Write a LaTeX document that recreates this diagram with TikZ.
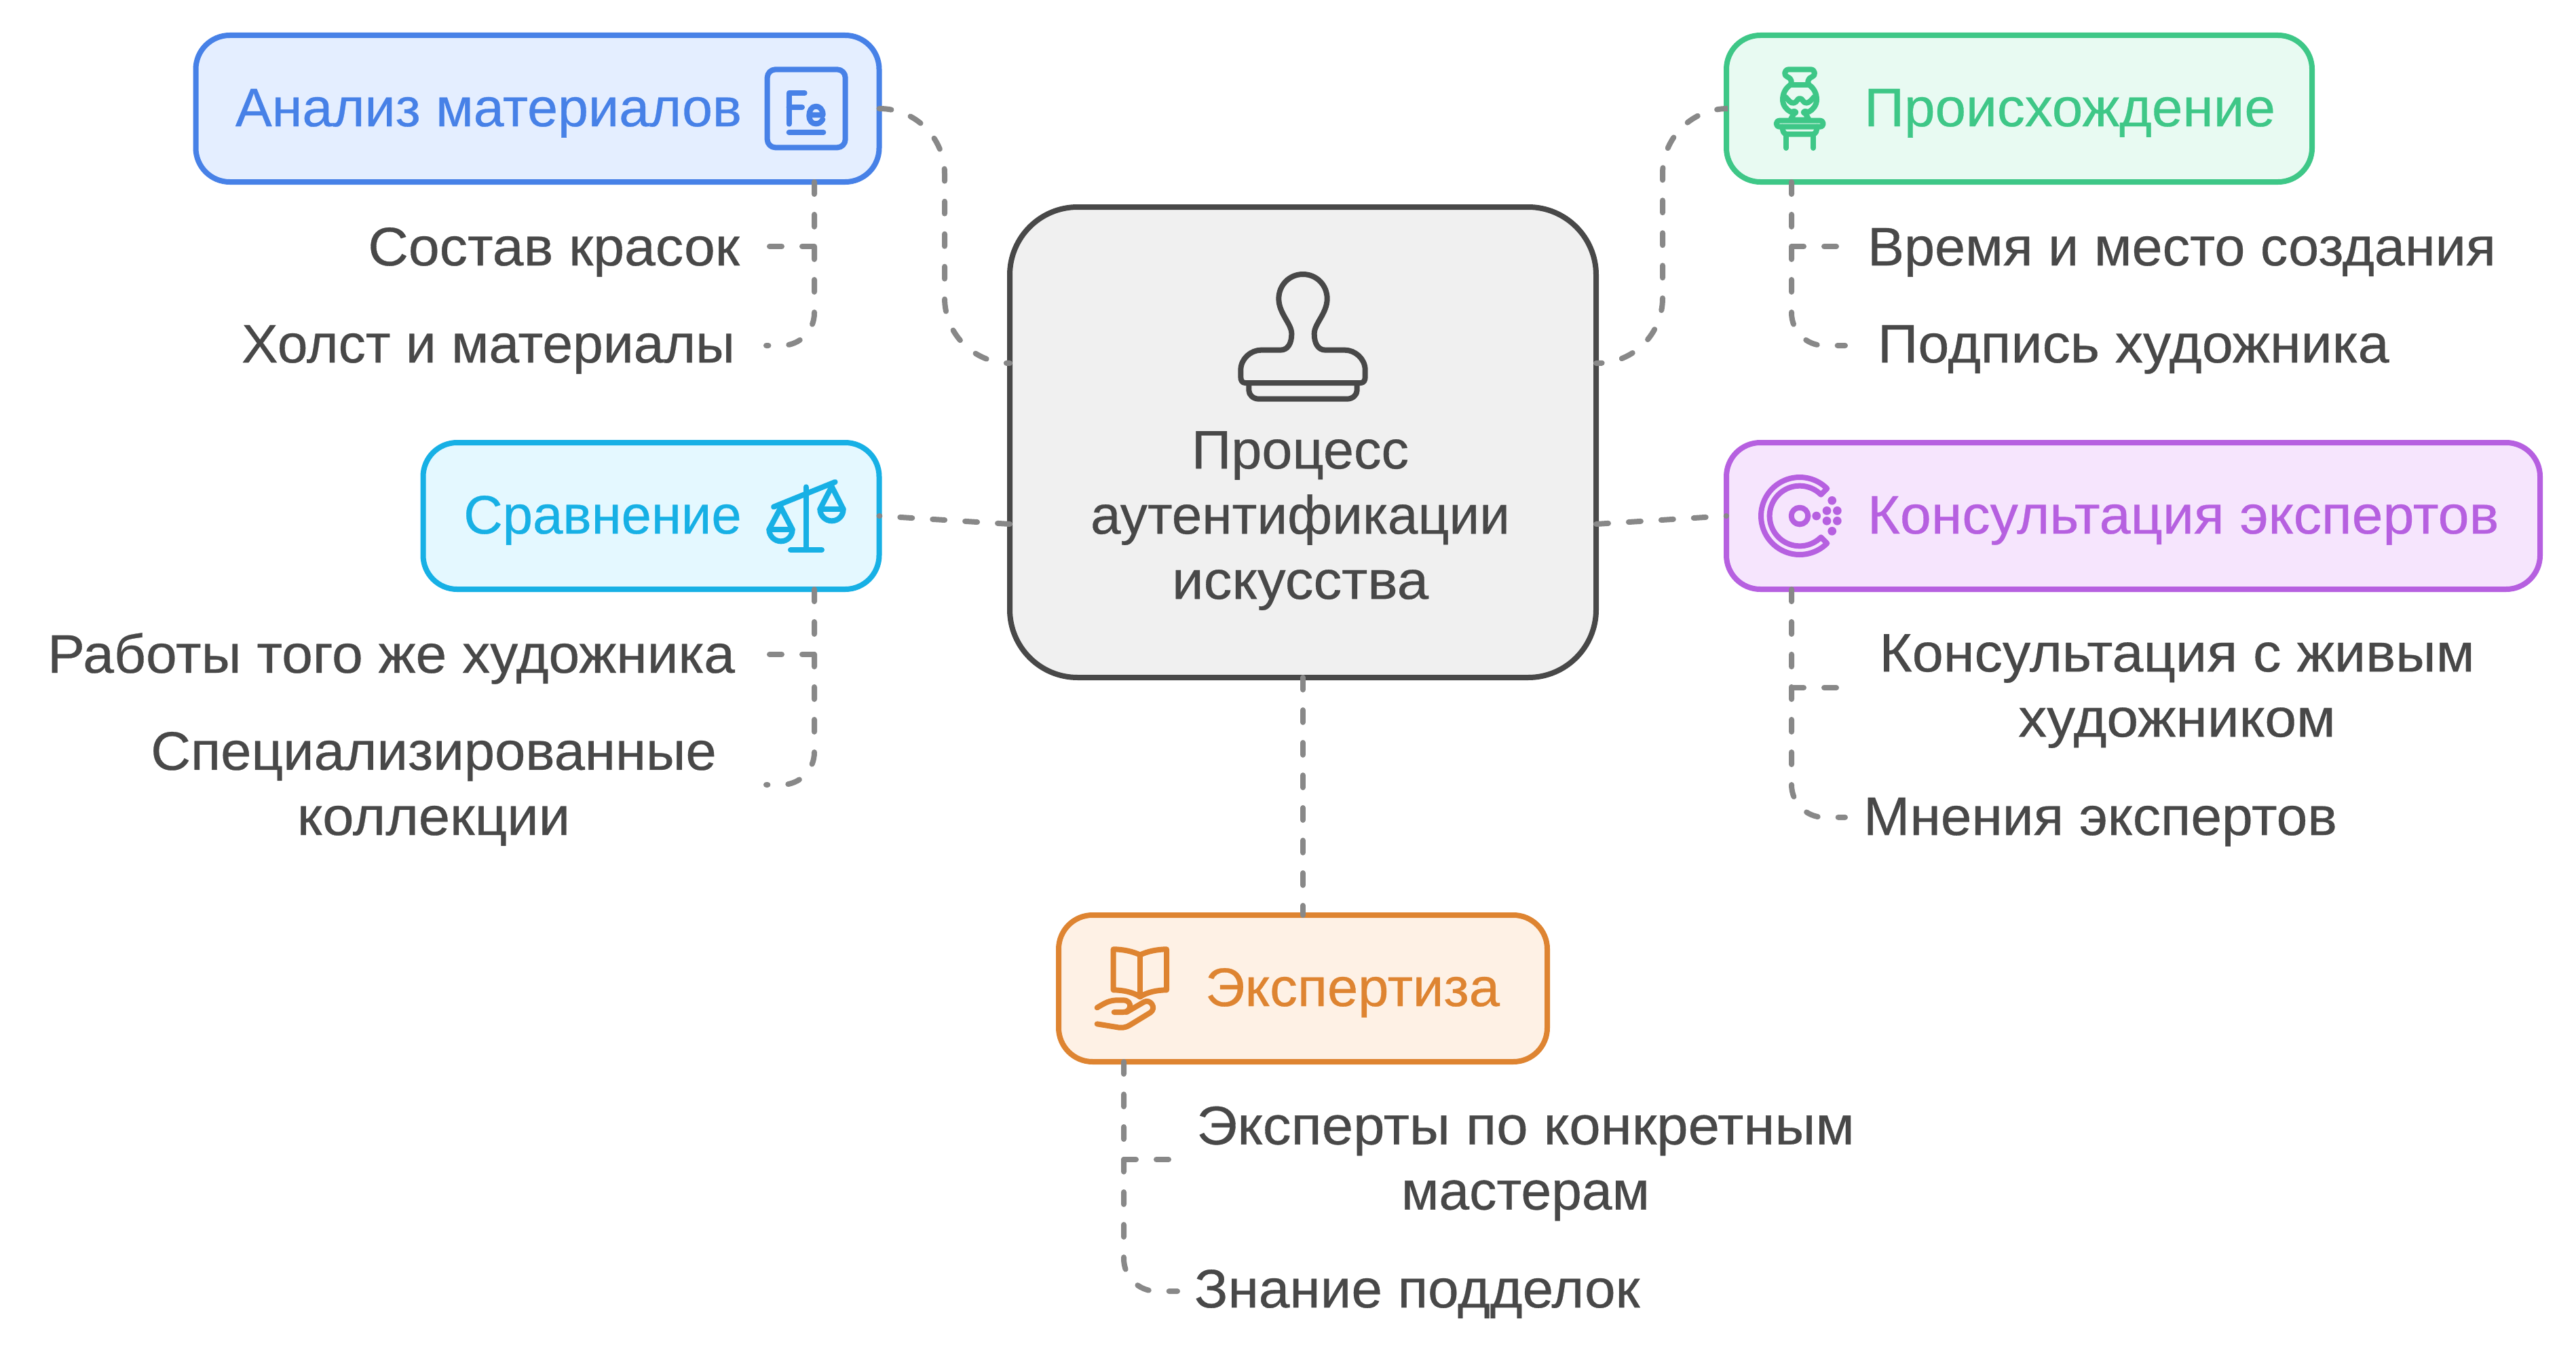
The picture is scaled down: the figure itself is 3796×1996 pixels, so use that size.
\documentclass[tikz,border=0pt]{standalone}
\usepackage{graphicx}
\usepackage{fontspec}
\setmainfont[FakeBold=0.4]{Liberation Sans}
\newcommand{\fw}[2]{\resizebox{#1\dimexpr 1.2115pt\relax}{\height}{#2}}
\definecolor{cblue}{HTML}{4781E7}\definecolor{fblue}{HTML}{E4EEFF}
\definecolor{cgreen}{HTML}{3EC787}\definecolor{fgreen}{HTML}{E8FAF2}
\definecolor{ccyan}{HTML}{17B0E5}\definecolor{fcyan}{HTML}{E4F8FF}
\definecolor{cpurple}{HTML}{B660E0}\definecolor{fpurple}{HTML}{F6E5FD}
\definecolor{corange}{HTML}{DE8431}\definecolor{forange}{HTML}{FEF1E5}
\definecolor{cgray}{HTML}{888888}\definecolor{ctext}{HTML}{484848}\definecolor{fcenter}{HTML}{F0F0F0}
\tikzset{
 box/.style 2 args={draw=#1,fill=#2,line width=4pt,rounded corners=25pt,inner sep=0pt,outer sep=0pt,minimum height=108pt},
 conn/.style={draw=cgray,line width=4pt,line cap=round,dash pattern=on 9pt off 15pt},
 lbl/.style={inner sep=0pt,outer sep=0pt,text=ctext,font=\fontsize{40pt}{48pt}\selectfont,align=center},
 ttl/.style={lbl,text=#1},
 icon/.style={draw=#1,line width=4pt,line cap=round,line join=round},
}
\begin{document}
\begin{tikzpicture}[x=0.5pt,y=-0.5pt]
\useasboundingbox (0,0) rectangle (3796,1996);
% boxes
\node[box={cblue}{fblue},minimum width=503.5pt] (blue) at (792,160) {};
\node[box={cgreen}{fgreen},minimum width=431.5pt] (green) at (2975.5,160) {};
\node[box={ccyan}{fcyan},minimum width=336pt] (cyan) at (959.5,760) {};
\node[box={cpurple}{fpurple},minimum width=599.5pt] (purple) at (3143.5,760) {};
\node[box={corange}{forange},minimum width=360pt] (orange) at (1920,1456) {};
\node[draw=ctext,fill=fcenter,line width=4pt,rounded corners=50pt,inner sep=0pt,outer sep=0pt,minimum width=432pt,minimum height=346.5pt] (center) at (1920,651.5) {};
% titles
\node[ttl=cblue,anchor=base] (t1) at (720,186) {\fw{308}{Анализ материалов}};
\node[ttl=cgreen,anchor=base] (t2) at (3050,186) {\fw{250}{Происхождение}};
\node[ttl=ccyan,anchor=base] (t3) at (888,786) {\fw{169}{Сравнение}};
\node[ttl=cpurple,anchor=base] (t4) at (3217,786) {\fw{384}{Консультация экспертов}};
\node[ttl=corange,anchor=base] (t5) at (1993,1482) {\fw{179}{Экспертиза}};
\node[lbl] (t0) at (1916,767) {\fw{132}{Процесс}\\\fw{255}{аутентификации}\\\fw{156}{искусства}};
% leaves
\node[lbl,anchor=base east] (l1) at (1090,391) {\fw{226}{Состав красок}};
\node[lbl,anchor=base east] (l2) at (1083,534) {\fw{300}{Холст и материалы}};
\node[lbl,anchor=base east] (l3) at (1083,991) {\fw{418}{Работы того же художника}};
\node[lbl] (l4) at (639,1162) {\fw{344}{Специализированные}\\\fw{166}{коллекции}};
\node[lbl,anchor=base west] (l5) at (2752,391) {\fw{382}{Время и место создания}};
\node[lbl,anchor=base west] (l6) at (2767,534) {\fw{311}{Подпись художника}};
\node[lbl] (l7) at (3208,1018) {\fw{362}{Консультация с живым}\\\fw{193}{художником}};
\node[lbl,anchor=base west] (l8) at (2746,1230) {\fw{288}{Мнения экспертов}};
\node[lbl] (l9) at (2248,1714) {\fw{400}{Эксперты по конкретным}\\\fw{151}{мастерам}};
\node[lbl,anchor=base west] (l10) at (1760,1926) {\fw{271}{Знание подделок}};
% connector coordinates
\coordinate (cw1) at (1488,535);
\coordinate (cw2) at (1488,772);
\coordinate (ce1) at (2352,535);
\coordinate (ce2) at (2352,772);
\coordinate (b1) at (1392,160);
\coordinate (b2) at (2450,160);
\coordinate (vb) at (1200,363);
\coordinate (eb1) at (1129,363);
\coordinate (eb2) at (1129,509);
\coordinate (vg) at (2640,363);
\coordinate (eg1) at (2719,363);
\coordinate (eg2) at (2719,509);
\coordinate (vc) at (1200,964);
\coordinate (ec1) at (1129,964);
\coordinate (ec2) at (1129,1156);
\coordinate (vp) at (2640,1013);
\coordinate (ep1) at (2719,1013);
\coordinate (ep2) at (2719,1204);
\coordinate (vo) at (1656,1708);
\coordinate (eo1) at (1735,1708);
\coordinate (eo2) at (1735,1902);
% main connectors
\draw[conn,rounded corners=48pt] (blue.east) -- (b1) |- (cw1);
\draw[conn,rounded corners=48pt] (green.west) -- (b2) |- (ce1);
\draw[conn] (cw2) -- (cyan.east);
\draw[conn] (ce2) -- (purple.west);
\draw[conn] (center.south) -- (center.south |- orange.north);
% sub connectors
\draw[conn,rounded corners=24pt] (blue.south -| vb) |- (eb2);
\draw[conn] (vb) -- (eb1);
\draw[conn,rounded corners=24pt] (green.south -| vg) |- (eg2);
\draw[conn] (vg) -- (eg1);
\draw[conn,rounded corners=24pt] (cyan.south -| vc) |- (ec2);
\draw[conn] (vc) -- (ec1);
\draw[conn,rounded corners=24pt] (purple.south -| vp) |- (ep2);
\draw[conn] (vp) -- (ep1);
\draw[conn,rounded corners=24pt] (orange.south -| vo) |- (eo2);
\draw[conn] (vo) -- (eo1);
% icon: Fe
\begin{scope}[shift={(1080,20)},x=0.16667pt,y=-0.16667pt,icon=cblue]
\draw[rounded corners=6pt] (152,247) rectangle (497,592);
\draw (248,488) -- (248,351) -- (317,351);
\draw (248,414) -- (306,414);
\draw (340,448) -- (398,448) .. controls (398,420) and (380,410) .. (367,410) .. controls (347,410) and (337,430) .. (337,450) .. controls (337,475) and (350,487) .. (367,487) .. controls (380,487) and (390,480) .. (397,468);
\draw (248,525) -- (400,525);
\end{scope}
% icon: stamp
\begin{scope}[shift={(1780,380)},x=0.16667pt,y=-0.16667pt,icon=ctext]
\draw (165,552) .. controls (150,552) and (145,540) .. (145,525) -- (145,495) .. controls (145,445) and (190,407) .. (235,407) -- (320,407) .. controls (355,407) and (370,375) .. (370,335) .. controls (370,290) and (313,245) .. (313,180) .. controls (313,120) and (360,72) .. (420,72) .. controls (480,72) and (527,120) .. (527,180) .. controls (527,245) and (470,290) .. (470,335) .. controls (470,375) and (485,407) .. (520,407) -- (605,407) .. controls (650,407) and (695,445) .. (695,495) -- (695,525) .. controls (695,540) and (690,552) .. (675,552) -- cycle;
\draw (181,552) -- (181,585) .. controls (181,605) and (200,623) .. (225,623) -- (615,623) .. controls (640,623) and (659,605) .. (659,585) -- (659,552);
\end{scope}
% icon: vase
\begin{scope}[shift={(2500,30)},x=0.16667pt,y=-0.16667pt,icon=cgreen]
\draw (408,217) -- (505,217) .. controls (525,217) and (528,245) .. (510,250) .. controls (490,258) and (490,275) .. (497,285) .. controls (520,300) and (531,325) .. (531,350) .. controls (531,375) and (515,395) .. (495,405) -- (480,402) .. controls (472,402) and (470,410) .. (482,412) -- (497,440) -- (415,440) -- (430,412) .. controls (442,410) and (440,402) .. (432,402) -- (417,405) .. controls (397,395) and (381,375) .. (381,350) .. controls (381,325) and (392,300) .. (415,285) .. controls (422,275) and (422,258) .. (402,250) .. controls (384,245) and (387,217) .. (408,217) -- cycle;
\draw (415,285) -- (497,285);
\draw (393,338) .. controls (405,350) and (415,368) .. (430,365) .. controls (445,362) and (445,345) .. (456,345) .. controls (470,345) and (470,365) .. (485,365) .. controls (498,365) and (510,350) .. (520,338);
\draw (368,443) -- (545,443) .. controls (565,443) and (565,470) .. (545,470) -- (368,470) .. controls (348,470) and (348,443) .. (368,443) -- cycle;
\draw (380,470) .. controls (380,490) and (385,503) .. (400,503) -- (512,503) .. controls (527,503) and (532,490) .. (532,470);
\draw (396,503) -- (396,564);
\draw (516,503) -- (516,564);
\end{scope}
% icon: scales
\begin{scope}[shift={(1080,640)},x=0.16667pt,y=-0.16667pt,icon=ccyan]
\draw (180,320) -- (452,210);
\draw (323,232) -- (323,510);
\draw (255,510) -- (393,510);
\draw (212,322) -- (160,420) .. controls (160,450) and (185,472) .. (212,472) .. controls (240,472) and (263,450) .. (263,420) -- cycle;
\draw (160,420) -- (263,420);
\draw (437,230) -- (385,330) .. controls (385,360) and (410,382) .. (437,382) .. controls (465,382) and (488,360) .. (488,330) -- cycle;
\draw (385,330) -- (488,330);
\end{scope}
% icon: consul
\begin{scope}[shift={(2520,640)},x=0.16667pt,y=-0.16667pt,icon=cpurple]
\draw[line cap=butt,miter limit=10] plot[domain=-45:-315,samples=60] ({396+171*cos(\x)},{360+171*sin(\x)}) -- plot[domain=-315:-45,samples=60] ({396+133*cos(\x)},{360+133*sin(\x)}) -- cycle;
\draw (396,360) circle[radius=37];
\fill[cpurple] (470,360) circle[radius=19] (516,337) circle[radius=19] (562,337) circle[radius=19] (516,382) circle[radius=19] (562,382) circle[radius=19] (539,292) circle[radius=19] (539,427) circle[radius=19];
\end{scope}
% icon: book in hand
\begin{scope}[shift={(1540,1340)},x=0.16667pt,y=-0.16667pt,icon=corange]
\draw (302,175) .. controls (345,175) and (390,185) .. (420,200) .. controls (450,185) and (495,175) .. (537,175) -- (537,355) .. controls (495,355) and (450,365) .. (420,385) .. controls (390,365) and (345,355) .. (302,355) -- cycle;
\draw (420,200) -- (420,385);
\draw (230,433) .. controls (265,412) and (285,400) .. (320,400) -- (345,400) .. controls (370,400) and (378,415) .. (375,430) .. controls (372,445) and (360,453) .. (345,453) -- (305,453);
\draw (360,453) -- (437,408) .. controls (465,392) and (495,435) .. (465,455) -- (375,510) .. controls (350,525) and (330,522) .. (310,518) -- (230,505);
\end{scope}
\end{tikzpicture}
\end{document}
